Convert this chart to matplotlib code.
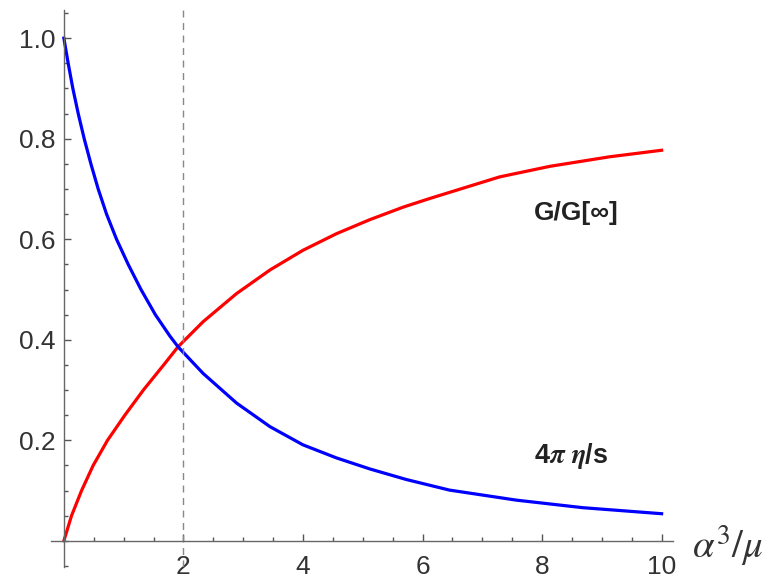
import numpy as np
import matplotlib
matplotlib.use("Agg")
import matplotlib.pyplot as plt
from matplotlib.ticker import MultipleLocator, FixedLocator

plt.rcParams['font.family'] = ['Liberation Sans', 'DejaVu Sans']
plt.rcParams['mathtext.fontset'] = 'stix'

# values
G_x = [0, 0.128, 0.296, 0.49, 0.73, 1.02, 1.33, 1.67, 1.91, 2.33, 2.89,
       3.45, 4.0, 4.56, 5.12, 5.68, 6.12, 7.29, 8.13, 9.13, 10.0]
G_ratio = [0, 0.05, 0.10, 0.15, 0.20, 0.25, 0.30, 0.35, 0.386, 0.436, 0.492,
           0.539, 0.578, 0.611, 0.639, 0.664, 0.681, 0.724, 0.745, 0.764,
           0.777]

eta_x = [0, 0.072, 0.15, 0.24, 0.34, 0.452, 0.574, 0.714, 0.881, 1.076,
         1.29, 1.53, 1.77, 1.91, 2.33, 2.89, 3.45, 4.0, 4.56, 5.12, 5.73,
         6.45, 7.57, 8.68, 10.0]
eta_s = [1.0, 0.95, 0.90, 0.85, 0.80, 0.75, 0.70, 0.65, 0.60, 0.55, 0.50,
         0.45, 0.408, 0.386, 0.333, 0.274, 0.227, 0.191, 0.165, 0.143, 0.122,
         0.101, 0.081, 0.066, 0.054]
x_marker = 2.0

x_ticks = [2, 4, 6, 8, 10]
y_ticks = [0.2, 0.4, 0.6, 0.8, 1.0]

fig = plt.figure(figsize=(7.65, 5.81), dpi=100)
ax = fig.add_axes([0.0663, 0.0241, 0.8134, 0.9587])

ax.plot(G_x, G_ratio, color='#ff0000', lw=2.3, solid_joinstyle='round')
ax.plot(eta_x, eta_s, color='#0000ff', lw=2.3, solid_joinstyle='round')
ax.axvline(x_marker, color='#888888', lw=1.0, ls=(0, (5, 4)))

ax.set_xlim(-0.22, 10.19)
ax.set_ylim(-0.052, 1.056)

for s in ['top', 'right']:
    ax.spines[s].set_visible(False)
for s in ['left', 'bottom']:
    ax.spines[s].set_position(('data', 0))
    ax.spines[s].set_color('#666666')
    ax.spines[s].set_linewidth(1.0)

ax.xaxis.set_major_locator(FixedLocator(x_ticks))
ax.xaxis.set_minor_locator(MultipleLocator(0.5))
ax.yaxis.set_major_locator(FixedLocator(y_ticks))
ax.yaxis.set_minor_locator(MultipleLocator(0.05))
ax.set_yticklabels(['%.1f' % v for v in y_ticks])

ax.tick_params(which='both', direction='in', color='#555555', width=1.0,
               labelsize=19, labelcolor='#333333')
ax.tick_params(which='major', length=5)
ax.tick_params(which='minor', length=3)
ax.tick_params(axis='x', pad=10)
ax.tick_params(axis='y', pad=6)

ax.text(8.57, 0.652, 'G/G[∞]', fontsize=19, fontweight='bold',
        color='#222222', ha='center', va='center')
ax.text(8.48, 0.168, r'4$\boldsymbol{\pi}$ $\boldsymbol{\eta}$/s', fontsize=19.5,
        fontweight='bold', color='#222222', ha='center', va='center')
ax.text(10.5, -0.01, r'$\alpha^3/\mu$', fontsize=28, color='#333333',
        ha='left', va='center', clip_on=False)

fig.savefig('out.png', dpi=100)
